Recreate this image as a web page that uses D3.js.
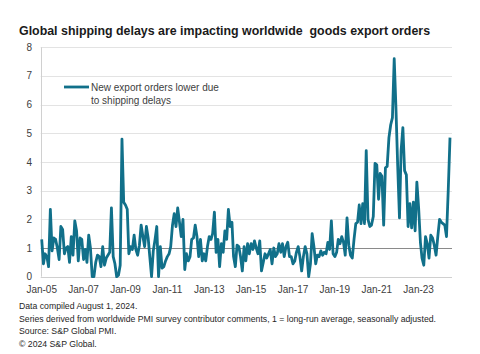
<!DOCTYPE html>
<html><head><meta charset="utf-8">
<script src="https://cdn.jsdelivr.net/npm/d3@7"></script>
<style>body{margin:0;background:#fff} svg{display:block;font-family:"Liberation Sans",Arial,sans-serif}</style>
</head><body><svg id="c" width="480" height="354"></svg>
<script>
const titleText = "Global shipping delays are impacting worldwide  goods export orders";
const legendLines = ["New export orders lower due", "to shipping delays"];
const yTicks = [0, 1, 2, 3, 4, 5, 6, 7, 8];
const xTickLabels = ["Jan-05","Jan-07","Jan-09","Jan-11","Jan-13","Jan-15","Jan-17","Jan-19","Jan-21","Jan-23"];
const firstMonth = "Jan-05";
// monthly values, Jan-05 .. Jul-24
const values = [
  1.3, 0.45, 0.8, 0.7, 0.35, 2.35, 0.9, 1.35, 1.3, 1.0, 0.6, 1.75,      // 2005
  1.65, 0.8, 1.0, 1.05, 0.5, 1.4, 0.75, 1.95, 1.6, 0.55, 1.35, 1.3,     // 2006
  0.6, 0.95, 0.5, 1.45, 1.0, 0.0, 0.0, 0.5, 0.75, 0.7, 0.35, 1.05,      // 2007
  0.4, 0.65, 0.75, 0.85, 2.4, 0.7, 0.45, 0.0, 0.05, 0.4, 4.8, 2.6,      // 2008
  2.5, 2.35, 0.8, 1.05, 0.95, 1.45, 0.95, 0.75, 1.1, 1.8, 1.4, 1.05,    // 2009
  1.75, 1.35, 0.7, 0.0, 0.9, 1.3, 1.75, 0.0, 1.05, 0.3, 0.35, 0.55,     // 2010
  0.7, 0.8, 1.05, 1.8, 2.2, 1.75, 2.4, 1.9, 1.4, 2.0, 0.25, 0.8,        // 2011
  0.55, 0.7, 1.3, 1.35, 1.8, 1.4, 0.7, 1.3, 0.55, 0.8, 0.55, 1.05,      // 2012
  1.4, 1.3, 1.5, 2.25, 0.85, 1.3, 0.35, 1.15, 0.85, 1.6, 1.3, 2.35,     // 2013
  1.75, 1.9, 0.7, 0.35, 1.1, 1.05, 0.7, 0.2, 1.05, 0.55, 1.15, 0.8,     // 2014
  1.15, 0.95, 1.25, 1.0, 0.8, 1.25, 0.2, 0.5, 0.8, 0.65, 0.8, 0.95,     // 2015
  0.45, 1.0, 0.7, 0.8, 1.15, 0.85, 1.15, 0.7, 1.05, 1.2, 0.7, 0.7,      // 2016
  0.45, 0.55, 0.85, 1.05, 0.7, 0.2, 0.7, 1.05, 0.8, 0.0, 0.45, 1.5,     // 2017
  1.05, 0.45, 0.75, 0.7, 0.9, 0.75, 0.85, 0.8, 1.2, 0.95, 1.95, 0.8,    // 2018
  0.7, 0.85, 1.3, 1.15, 1.4, 1.2, 0.75, 2.05, 1.1, 0.75, 0.65, 1.3,     // 2019
  1.85, 1.9, 2.5, 1.85, 2.55, 1.85, 4.4, 2.0, 1.75, 1.8, 2.1, 3.95,     // 2020
  3.9, 2.7, 3.6, 3.5, 1.8, 3.8, 3.85, 4.85, 5.3, 5.55, 7.6, 5.9,        // 2021
  3.85, 2.05, 4.4, 5.2, 3.7, 3.55, 1.75, 2.55, 1.7, 2.6, 1.6, 3.3,      // 2022
  2.4, 1.2, 0.65, 0.4, 1.4, 1.15, 0.65, 1.45, 1.35, 1.1, 0.75, 1.4,     // 2023
  2.0, 1.9, 1.85, 1.8, 1.4, 3.05, 4.85                                  // 2024
];
const footnotes = [
  "Data compiled August 1, 2024.",
  "Series derived from worldwide PMI survey contributor comments, 1 = long-run average, seasonally adjusted.",
  "Source: S&P Global PMI.",
  "\u00A9 2024 S&P Global."
];

const parseM = d3.timeParse("%b-%y");
const start = parseM(firstMonth);
const data = values.map((v, i) => ({ date: d3.timeMonth.offset(start, i), v }));

const svg = d3.select("#c");
const lineColor = "#11708a";
const plotLeft = 40.7, plotRight = 452, plotTop = 47.3, plotBottom = 276.7;

const x = d3.scaleTime()
  .domain([data[0].date, data[data.length - 1].date])
  .range([41.7, 450]);
const y = d3.scaleLinear().domain([0, 8]).range([plotBottom, plotTop]);

// title
svg.append("text").attr("x", 19).attr("y", 35)
  .style("white-space", "pre")
  .attr("font-size", 12.4).attr("font-weight", "bold").attr("fill", "#1a1a1a")
  .text(titleText);

// gridlines
svg.append("g").selectAll("line").data(yTicks.filter(t => t > 0)).join("line")
  .attr("x1", plotLeft).attr("x2", plotRight)
  .attr("y1", d => Math.round(y(d)) + 0.5).attr("y2", d => Math.round(y(d)) + 0.5)
  .attr("stroke", d => d === 1 ? "#8a8a8a" : "#e3e3e3").attr("stroke-width", 1);

// axes lines
svg.append("line").attr("x1", plotLeft).attr("x2", plotRight)
  .attr("y1", Math.round(y(0)) + 0.5).attr("y2", Math.round(y(0)) + 0.5)
  .attr("stroke", "#d0d0d0");
svg.append("line").attr("x1", Math.round(plotLeft) + 0.5).attr("x2", Math.round(plotLeft) + 0.5)
  .attr("y1", plotTop).attr("y2", plotBottom)
  .attr("stroke", "#d0d0d0");

// y labels
svg.append("g").selectAll("text").data(yTicks).join("text")
  .attr("x", 32).attr("y", d => y(d) + 3.5)
  .attr("text-anchor", "end").attr("font-size", 10).attr("fill", "#404040")
  .text(d => d);

// x labels
svg.append("g").selectAll("text").data(xTickLabels).join("text")
  .attr("x", d => x(parseM(d))).attr("y", 292.5)
  .attr("text-anchor", "middle").attr("font-size", 10).attr("fill", "#404040")
  .text(d => d);

// series line
const line = d3.line().x(d => x(d.date)).y(d => y(d.v));
svg.append("path").datum(data).attr("d", line)
  .attr("fill", "none").attr("stroke", lineColor).attr("stroke-width", 2.8)
  .attr("stroke-linejoin", "round");

// legend
svg.append("line").attr("x1", 64).attr("x2", 89).attr("y1", 87).attr("y2", 87)
  .attr("stroke", lineColor).attr("stroke-width", 2.8);
svg.append("g").selectAll("text").data(legendLines).join("text")
  .attr("x", 91).attr("y", (d, i) => 90.5 + i * 13)
  .attr("font-size", 10).attr("fill", "#404040").text(d => d);

// footnotes
svg.append("g").selectAll("text").data(footnotes).join("text")
  .attr("x", 19).attr("y", (d, i) => 309 + i * 12.7)
  .attr("font-size", 8.7).attr("fill", "#262626").text(d => d);
</script></body></html>
